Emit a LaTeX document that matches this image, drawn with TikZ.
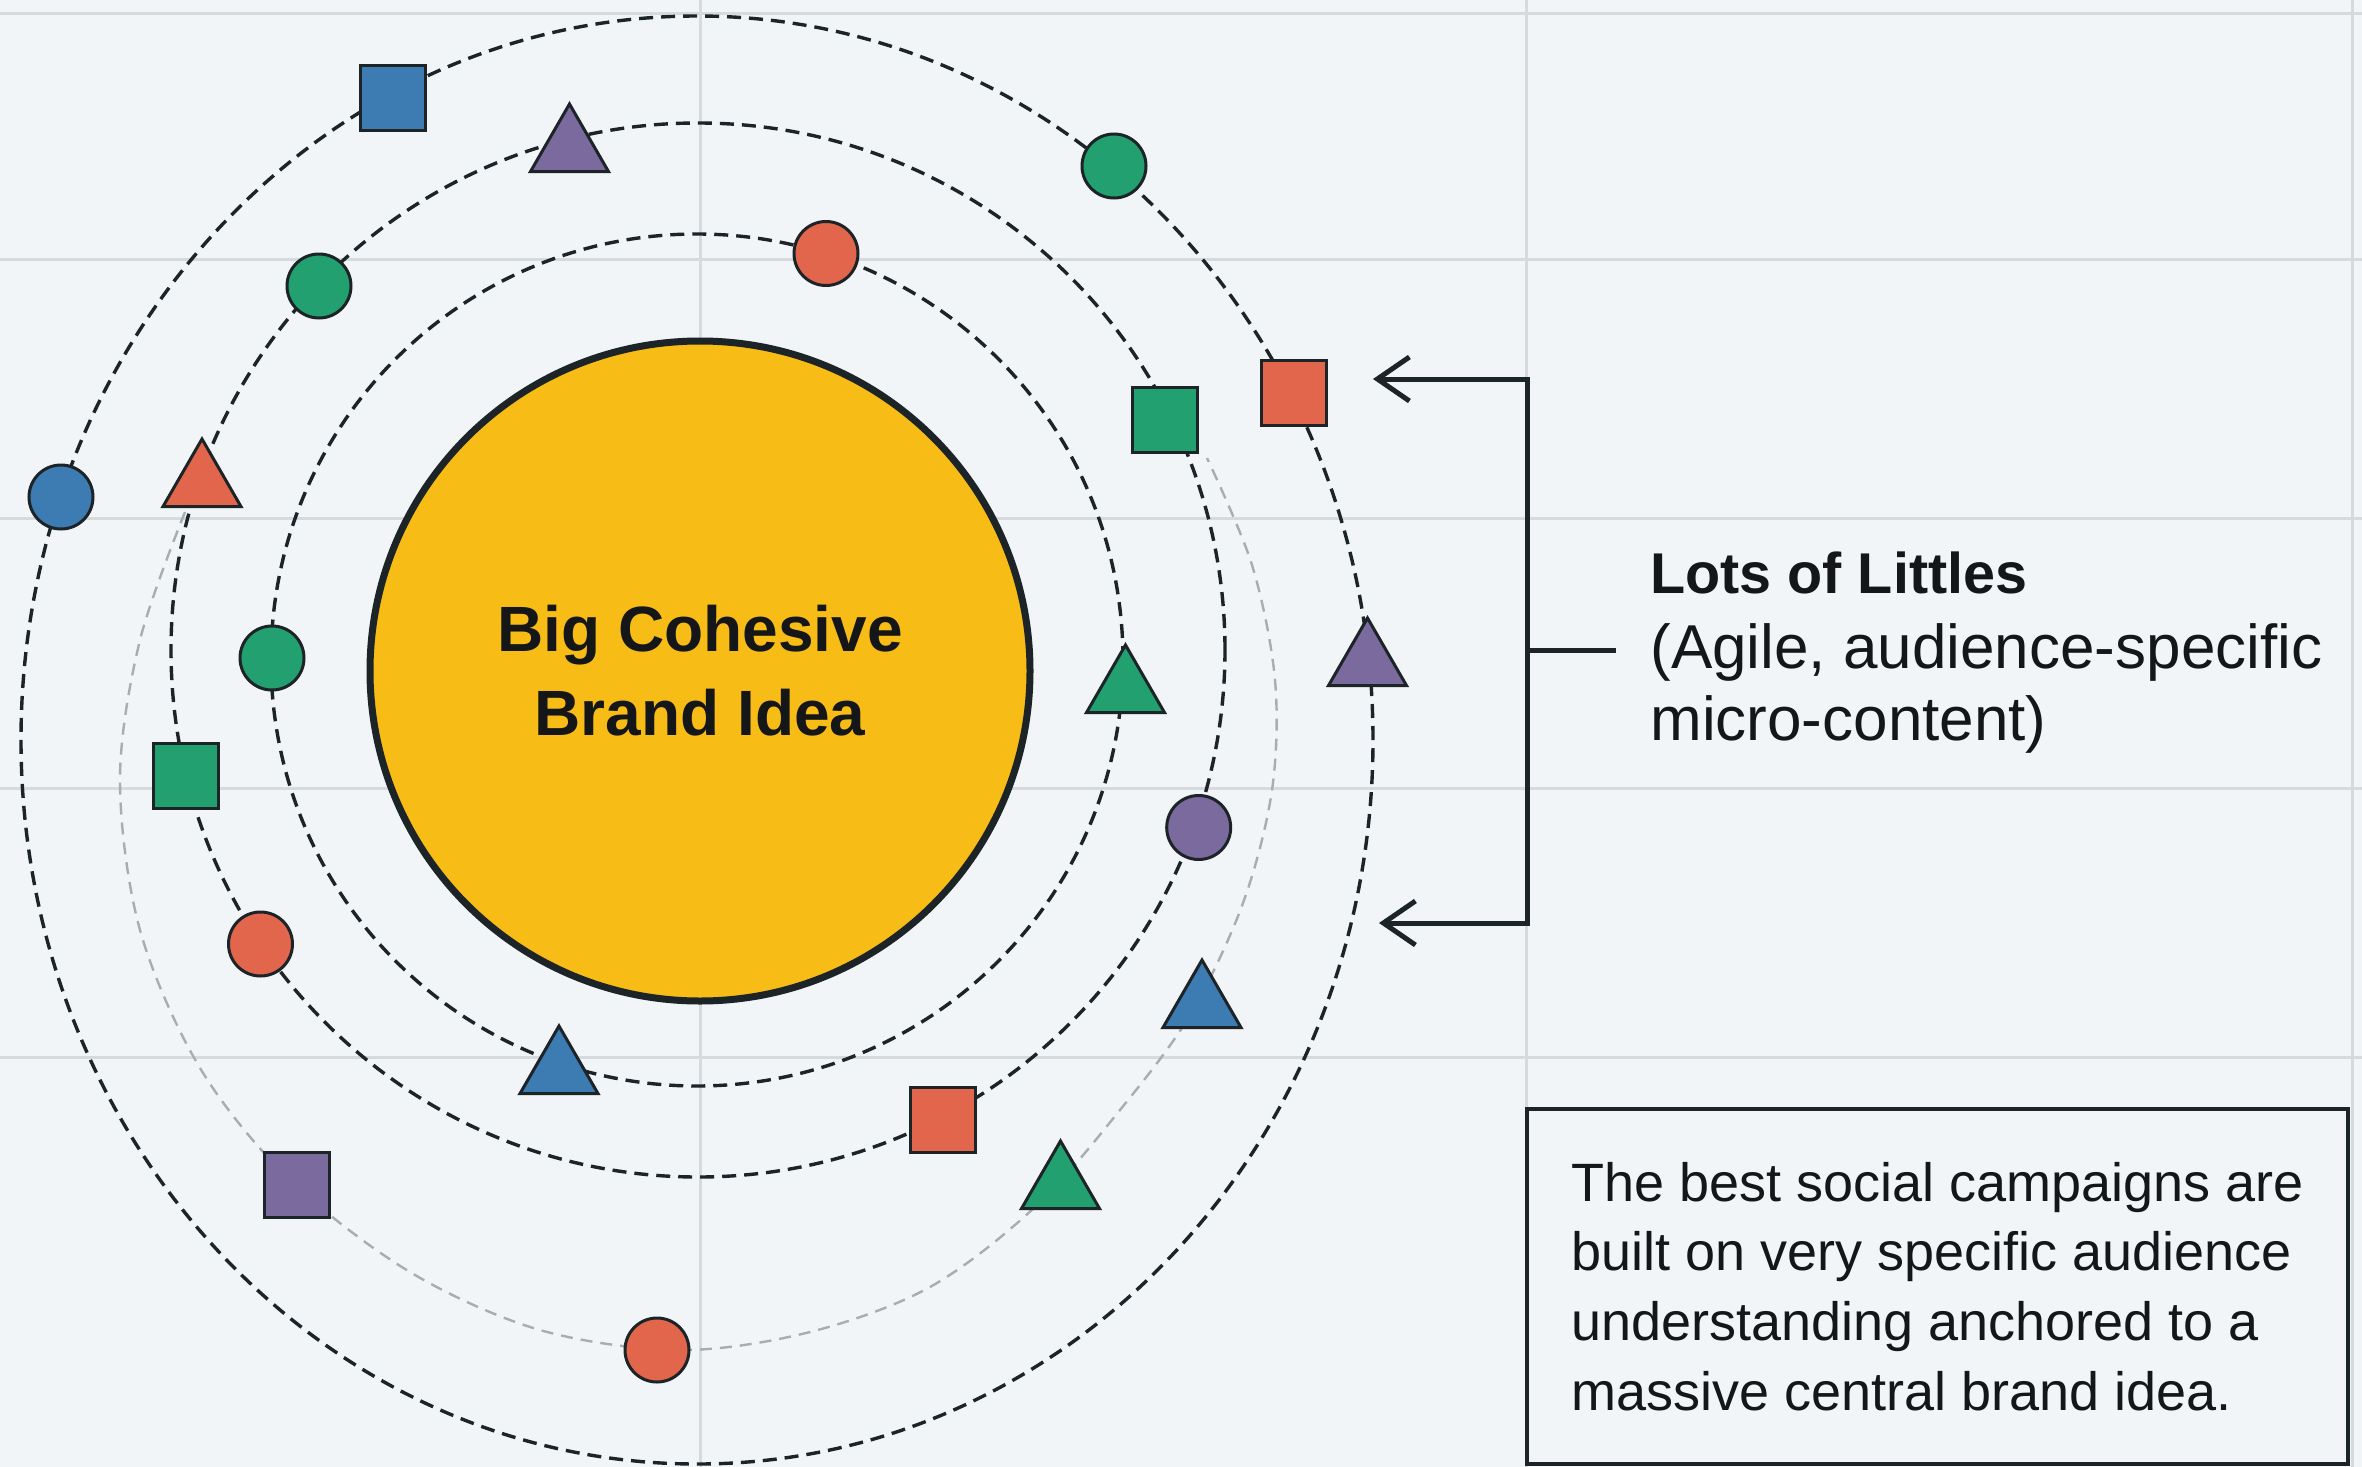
\documentclass[tikz,border=0pt]{standalone}
\usepackage{fontspec}
\setmainfont{Liberation Sans}
\usetikzlibrary{arrows.meta,shapes.geometric}
\definecolor{bg}{HTML}{F2F5F7}
\definecolor{gridc}{HTML}{D6DADD}
\definecolor{ink}{HTML}{1C2427}
\definecolor{txt}{HTML}{141618}
\definecolor{cblue}{HTML}{3D7BB3}
\definecolor{cpurple}{HTML}{7A6A9E}
\definecolor{cgreen}{HTML}{22A070}
\definecolor{cred}{HTML}{E2664B}
\definecolor{cyellow}{HTML}{F8BC17}
\definecolor{orbitgray}{HTML}{A9ADB1}
\begin{document}
\begin{tikzpicture}[x=0.5pt,y=-0.5pt,
  gridline/.style={gridc, line width=1.5pt},
  orbit/.style={ink, line width=1.7pt, dash pattern=on 7pt off 4pt},
  faint/.style={orbitgray, line width=1.2pt, dash pattern=on 6pt off 4pt},
  piece/.style={draw=ink, line width=1.5pt, inner sep=0pt, outer sep=0pt},
  dot/.style={piece, circle, minimum size=32pt},
  tile/.style={piece, rectangle, minimum size=32.5pt},
  tri/.style={piece, regular polygon, regular polygon sides=3, minimum size=45pt},
  bracket/.style={ink, line width=2.5pt, >={Straight Barb[length=16pt,width=22pt]}},
  label/.style={anchor=base west, inner sep=0pt, text=txt},
]
\useasboundingbox (0,0) rectangle (2362,1467);
\fill[bg] (0,0) rectangle (2362,1467);
% grid
\foreach \y in {13,259,518.5,788.5,1057} \draw[gridline] (0,\y) -- (2362,\y);
\foreach \x in {700,1526,2352} \draw[gridline] (\x,0) -- (\x,1467);
% orbits
\draw[orbit] (697,660) circle[radius=213pt];
\draw[orbit] (698,650) circle[radius=263.5pt];
\draw[orbit] (697,740) ellipse[x radius=338pt, y radius=362pt];
\draw[faint] plot[smooth, tension=0.55] coordinates {
  (185,512) (140,640) (120,780) (140,930) (200,1068) (290,1180)
  (410,1272) (540,1330) (680,1350) (810,1332) (930,1287) (1035,1207)
  (1120,1110) (1190,1015) (1243,903) (1272,790) (1275,680) (1252,565)
  (1207,458)};
% core
\node[circle, draw=ink, line width=3.5pt, fill=cyellow, minimum size=330pt,
  inner sep=0pt, align=center, text=txt,
  font=\fontsize{32}{42}\selectfont\bfseries] (core) at (700,671)
  {Big Cohesive\\Brand Idea};
% pieces
\node[tile, fill=cblue]   (sqB1)  at (393,97.5) {};
\node[tri,  fill=cpurple] (triP1) at (569.5,149) {};
\node[dot,  fill=cgreen]  (cirG1) at (1114,166) {};
\node[dot,  fill=cred]    (cirR1) at (826,253.5) {};
\node[dot,  fill=cgreen]  (cirG2) at (319,286) {};
\node[tile, fill=cred]    (sqR1)  at (1294,393) {};
\node[tile, fill=cgreen]  (sqG1)  at (1165,420) {};
\node[dot,  fill=cblue]   (cirB1) at (61,497) {};
\node[tri,  fill=cred]    (triR1) at (202,484) {};
\node[dot,  fill=cgreen]  (cirG3) at (272,658) {};
\node[tri,  fill=cgreen]  (triG1) at (1125.5,690) {};
\node[tri,  fill=cpurple] (triP2) at (1367.5,663) {};
\node[tile, fill=cgreen]  (sqG2)  at (185.5,775.5) {};
\node[dot,  fill=cpurple] (cirP1) at (1198.7,827.5) {};
\node[dot,  fill=cred]    (cirR2) at (260.5,944) {};
\node[tri,  fill=cblue]   (triB1) at (1202,1005) {};
\node[tri,  fill=cblue]   (triB2) at (559,1071) {};
\node[tile, fill=cred]    (sqR2)  at (943,1119.5) {};
\node[tri,  fill=cgreen]  (triG2) at (1060.5,1186) {};
\node[tile, fill=cpurple] (sqP1)  at (297,1185) {};
\node[dot,  fill=cred]    (cirR3) at (657,1350) {};
% bracket
\coordinate (tipT) at (1373,379);
\coordinate (cornT) at (1527,379);
\coordinate (cornB) at (1527,923);
\coordinate (tipB) at (1379,923);
\coordinate (midB) at (1527,650);
\coordinate (tickE) at (1616,650);
\draw[bracket, <->] (tipT) -- (cornT) -- (cornB) -- (tipB);
\draw[bracket] (midB) -- (tickE);
% labels
\node[label, font=\fontsize{28.75}{36}\selectfont\bfseries] (lots) at (1650,593) {Lots of Littles};
\node[label, font=\fontsize{31}{38}\selectfont] (agile) at (1650,668) {(Agile, audience-specific};
\node[label, font=\fontsize{31}{38}\selectfont] (micro) at (1650,740) {micro-content)};
% note box
\node[draw=ink, line width=1.6pt, minimum width=410.5pt, minimum height=177.5pt,
  inner sep=0pt, align=left, text=txt, font=\fontsize{27}{34.85}\selectfont]
  (note) at (1937.5,1286.5)
  {The best social campaigns are\\built on very specific audience\\understanding anchored to a\\massive central brand idea.};
\end{tikzpicture}
\end{document}
